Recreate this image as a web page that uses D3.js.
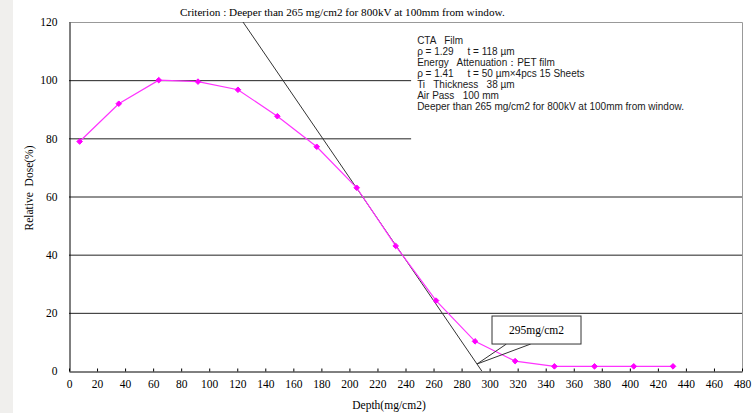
<!DOCTYPE html>
<html>
<head>
<meta charset="utf-8">
<script src="https://cdn.jsdelivr.net/npm/d3@7"></script>
<style>
  body { margin: 0; background: #fff; }
  svg { display: block; }
  .serif { font-family: "Liberation Serif", "Times New Roman", serif; }
</style>
</head>
<body>
<script>
var width = 756,
    height = 413

// measured dose curve
var depth = [7.6, 35.5, 64, 92, 120.5, 148.6, 176.7, 205.2, 233, 261.8, 289.6, 318.2, 346.2, 374.8, 402.8, 430.8]
var dose = [78.9, 91.9, 100, 99.5, 96.7, 87.6, 77.1, 63.0, 43.0, 24.2, 10.2, 3.4, 1.6, 1.6, 1.6, 1.6]

// tangent line through the falling edge
var tangentX = [124.1, 294.4]
var tangentY = [120, 0]

var xTicks = d3.range(0, 481, 20)
var yTicks = [0, 20, 40, 60, 80, 100, 120]
var gridValues = [20, 40, 60, 80, 100]

var title = "Criterion : Deeper than 265 mg/cm2 for 800kV at 100mm from window."
var notes = [
  "CTA   Film",
  "\u03c1 = 1.29     t = 118 \u00b5m",
  "Energy   Attenuation\uff1aPET film",
  "\u03c1 = 1.41     t = 50 \u00b5m\u00d74pcs 15 Sheets",
  "Ti   Thickness   38 \u00b5m",
  "Air Pass   100 mm",
  "Deeper than 265 mg/cm2 for 800kV at 100mm from window."
]
var calloutText = "295mg/cm2"
var calloutPoint = [291, 2.4]

var margin = {top: 22, right: 14, bottom: 42, left: 69}

var x = d3.scaleLinear()
    .domain([0, 480])
    .range([margin.left, width - margin.right])

var y = d3.scaleLinear()
    .domain([0, 120])
    .range([height - margin.bottom, margin.top])

var svg = d3.select("body").append("svg")
    .attr("width", width)
    .attr("height", height)

// light strip on the left edge
svg.append("rect")
    .attr("x", 0).attr("y", 0)
    .attr("width", 13).attr("height", height)
    .attr("fill", "#f0efed")

// gridlines
svg.append("g")
  .selectAll("line")
  .data(gridValues)
  .enter().append("line")
    .attr("x1", x(0)).attr("x2", x(480))
    .attr("y1", function(d) { return y(d) + 0.5 })
    .attr("y2", function(d) { return y(d) + 0.5 })
    .attr("stroke", "#222")

// frame (top and right)
svg.append("path")
    .attr("d", "M" + x(0) + "," + (y(120) + 0.5) + "H" + (x(480) + 0.5) + "V" + y(0))
    .attr("fill", "none")
    .attr("stroke", "#999")

// white box behind the notes
svg.append("rect")
    .attr("x", x(244))
    .attr("y", y(120) + 1)
    .attr("width", x(480) - x(244))
    .attr("height", y(79.3) - y(120) - 1)
    .attr("fill", "#fff")

svg.append("g")
    .style("font-family", "'Liberation Sans', Arial, sans-serif")
    .style("font-size", "10px")
    .attr("fill", "#1a1a1a")
  .selectAll("text")
  .data(notes)
  .enter().append("text")
    .attr("x", x(248.3))
    .attr("y", function(d, i) { return 43.5 + i * 11.15 })
    .style("white-space", "pre")
    .text(function(d) { return d })

// axes
var xAxis = d3.axisBottom(x)
    .tickValues(xTicks)
    .tickSizeInner(-3)
    .tickSizeOuter(0)
    .tickPadding(8)

svg.append("g")
    .attr("transform", "translate(0," + (y(0) + 0.5) + ")")
    .call(xAxis)
    .call(function(g) {
      g.attr("font-family", null).attr("font-size", null)
      g.select(".domain").attr("stroke", "#000")
      g.selectAll(".tick line").attr("stroke", "#000")
      g.selectAll("text")
        .attr("class", "serif")
        .style("font-size", "11.5px")
        .attr("fill", "#000")
    })

var yAxis = d3.axisLeft(y)
    .tickValues(yTicks)
    .tickSize(0)
    .tickPadding(12)

svg.append("g")
    .attr("transform", "translate(" + (x(0) + 0.5) + ",0)")
    .call(yAxis)
    .call(function(g) {
      g.attr("font-family", null).attr("font-size", null)
      g.select(".domain").attr("stroke", "#000")
      g.selectAll("text")
        .attr("class", "serif")
        .style("font-size", "11.5px")
        .attr("fill", "#000")
    })

// tangent
svg.append("line")
    .attr("x1", x(tangentX[0])).attr("y1", y(tangentY[0]))
    .attr("x2", x(tangentX[1])).attr("y2", y(tangentY[1]))
    .attr("stroke", "#333")
    .attr("stroke-width", 1)

// dose curve
var line = d3.line()
    .x(function(d, i) { return x(depth[i]) })
    .y(function(d) { return y(d) })

svg.append("path")
    .datum(dose)
    .attr("d", line)
    .attr("fill", "none")
    .attr("stroke", "#ff33ff")
    .attr("stroke-width", 1.2)

var marker = d3.symbol().type(d3.symbolDiamond2 || d3.symbolDiamond).size(20)

svg.append("g")
  .selectAll("path")
  .data(dose)
  .enter().append("path")
    .attr("transform", function(d, i) { return "translate(" + x(depth[i]) + "," + y(d) + ")" })
    .attr("d", marker)
    .attr("fill", "#ff00ff")
    .attr("stroke", "#ff00ff")
    .attr("stroke-width", 1)
    .attr("stroke-linejoin", "round")

// callout
var tipX = x(calloutPoint[0]),
    tipY = y(calloutPoint[1])

svg.append("path")
    .attr("d", "M" + (tipX + 29.4) + "," + (tipY - 20) + "L" + tipX + "," + tipY + "L" + (tipX + 53.7) + "," + (tipY - 20))
    .attr("fill", "none")
    .attr("stroke", "#333")

svg.append("rect")
    .attr("x", tipX + 15).attr("y", tipY - 48)
    .attr("width", 89).attr("height", 28)
    .attr("fill", "#fff")
    .attr("stroke", "#333")

svg.append("text")
    .attr("class", "serif")
    .attr("x", tipX + 59.5).attr("y", tipY - 30)
    .attr("text-anchor", "middle")
    .style("font-size", "11.5px")
    .text(calloutText)

// titles
svg.append("text")
    .attr("class", "serif")
    .attr("x", 180).attr("y", 16)
    .style("font-size", "11.2px")
    .text(title)

svg.append("text")
    .attr("class", "serif")
    .attr("x", 389).attr("y", 409)
    .attr("text-anchor", "middle")
    .style("font-size", "11.5px")
    .text("Depth(mg/cm2)")

svg.append("text")
    .attr("class", "serif")
    .attr("transform", "translate(33,188) rotate(-90)")
    .attr("text-anchor", "middle")
    .style("font-size", "11.5px")
    .style("white-space", "pre")
    .text("Relative  Dose(%)")
</script>
</body>
</html>
